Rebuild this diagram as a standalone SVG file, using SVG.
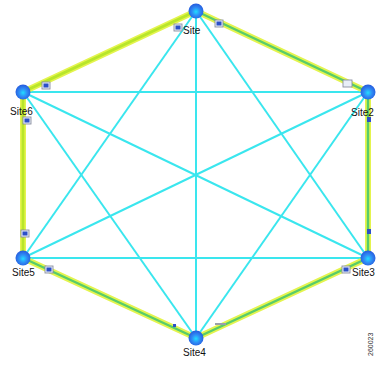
<svg xmlns="http://www.w3.org/2000/svg" width="377" height="366" viewBox="0 0 377 366">
<defs>
<radialGradient id="ng" cx="0.5" cy="0.55" r="0.6">
<stop offset="0" stop-color="#22ddff"/>
<stop offset="0.45" stop-color="#2f8cf5"/>
<stop offset="1" stop-color="#2450d8"/>
</radialGradient>
<style>
.diag{stroke:#3ae6ee;stroke-width:2;fill:none}
.rimo{stroke:#e4f44e;stroke-width:6;fill:none;stroke-linecap:round}
.rimi{stroke:#58cc6a;stroke-width:2.4;fill:none}
.rimy{stroke:#b8e62a;stroke-width:2.8;fill:none}
.node{fill:url(#ng)}
.lbl{font-family:"Liberation Sans",Arial,sans-serif;font-size:10px;fill:#111}
.port{fill:#e8eef8;stroke:#8a8fa0;stroke-width:0.9}
.pmark{fill:#2b4fc8}
.fig{font-family:"Liberation Sans",Arial,sans-serif;font-size:7px;fill:#333}
</style>
</defs>
<rect width="377" height="366" fill="#ffffff"/>
<g id="connectors">
<line class="diag" x1="196" y1="11" x2="196" y2="338"/>
<line class="diag" x1="196" y1="11" x2="23" y2="258"/>
<line class="diag" x1="196" y1="11" x2="368" y2="258"/>
<line class="diag" x1="23" y1="92" x2="368" y2="92"/>
<line class="diag" x1="23" y1="92" x2="368" y2="258"/>
<line class="diag" x1="23" y1="92" x2="196" y2="338"/>
<line class="diag" x1="368" y1="92" x2="23" y2="258"/>
<line class="diag" x1="368" y1="92" x2="196" y2="338"/>
<line class="diag" x1="23" y1="258" x2="368" y2="258"/>
<polygon class="rimo" points="196,11 368,92 368,258 196,338 23,258 23,92"/>
<polyline class="rimy" points="23,258 23,92 196,11"/>
<polyline class="rimi" points="196,11 368,92 368,258 196,338 23,258"/>
</g>
<g id="ports">
<rect class="port" x="174" y="24" width="8" height="7"/><rect class="pmark" x="175.5" y="25.5" width="5" height="4"/>
<rect class="port" x="215" y="20" width="8" height="7"/><rect class="pmark" x="216.5" y="21.5" width="5" height="4"/>
<rect class="port" x="42" y="82" width="8" height="7"/><rect class="pmark" x="43.5" y="83.5" width="5" height="4"/>
<rect class="port" x="23" y="117" width="8" height="7"/><rect class="pmark" x="24.5" y="118.5" width="5" height="4"/>
<rect class="port" x="343" y="80" width="9" height="7" fill="#f4f4f4"/>
<rect class="port" x="21" y="230" width="8" height="7"/><rect class="pmark" x="22.5" y="231.5" width="5" height="4"/>
<rect class="port" x="45" y="266" width="8" height="7"/><rect class="pmark" x="46.5" y="267.5" width="5" height="4"/>
<rect class="port" x="342" y="266" width="8" height="7"/><rect class="pmark" x="343.5" y="267.5" width="5" height="4"/>
<rect class="pmark" x="367" y="229" width="4" height="5"/>
<rect class="pmark" x="367" y="117" width="4" height="5"/>
<rect class="pmark" x="173" y="324" width="3" height="3"/>
<rect fill="#9aa0aa" x="215" y="323" width="11" height="2"/>
</g>
<g id="site1"><circle class="node" cx="196" cy="11" r="7.5"/><text class="lbl" x="183" y="34">Site</text></g>
<g id="site6"><circle class="node" cx="23" cy="92" r="7.5"/><text class="lbl" x="10" y="115">Site6</text></g>
<g id="site2"><circle class="node" cx="368" cy="92" r="7.5"/><text class="lbl" x="351" y="116">Site2</text></g>
<g id="site5"><circle class="node" cx="23" cy="258" r="7.5"/><text class="lbl" x="12" y="276">Site5</text></g>
<g id="site3"><circle class="node" cx="368" cy="258" r="7.5"/><text class="lbl" x="352" y="276">Site3</text></g>
<g id="site4"><circle class="node" cx="196" cy="338" r="7.5"/><text class="lbl" x="183" y="356">Site4</text></g>
<text class="fig" transform="translate(373,356) rotate(-90)">260023</text>
</svg>
